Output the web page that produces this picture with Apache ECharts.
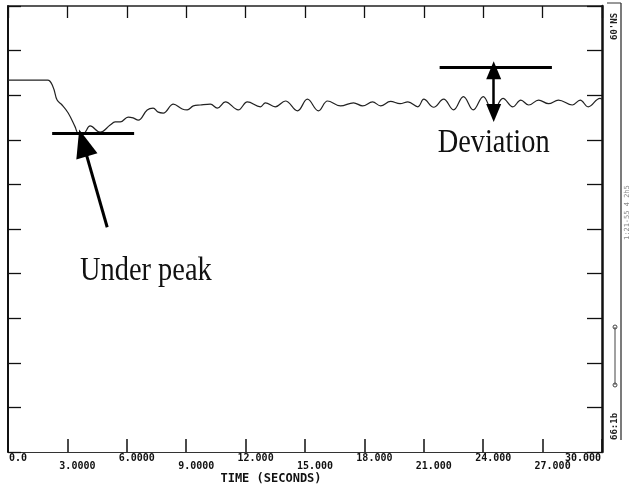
<!DOCTYPE html>
<html>
<head>
<meta charset="utf-8">
<script src="https://cdn.jsdelivr.net/npm/echarts@6/dist/echarts.min.js"></script>
<style>
  html, body { margin: 0; padding: 0; background: #fff; }
  #chart { width: 629px; height: 486px; }
</style>
</head>
<body>
<div id="chart"></div>
<script>
// Valores
const timeSec = [0, 2.0, 2.28, 2.48, 2.73, 3.04, 3.39, 3.54, 3.8, 4.15, 4.65, 5.16, 5.41, 5.67,
  6.07, 6.32, 6.58, 7.03, 7.33, 7.59, 7.84, 8.35, 8.8, 9.05, 9.36, 9.71, 10.22, 10.57, 10.98,
  11.63, 12.09, 12.75, 13.0, 13.5, 14.01, 14.62, 15.12, 15.68, 16.14, 16.79, 17.45, 17.91,
  18.41, 18.82, 19.32, 19.8, 20.2, 20.7, 21.0, 21.5, 22.0, 22.5, 23.0, 23.5, 24.0, 24.5, 25.0,
  25.5, 25.9, 26.3, 26.8, 27.3, 27.8, 28.5, 28.9, 29.3, 29.9, 30.0];
const response = [8.34, 8.34, 8.18, 7.89, 7.78, 7.60, 7.29, 7.15, 7.14, 7.31, 7.17, 7.33, 7.40, 7.40,
  7.51, 7.49, 7.44, 7.67, 7.71, 7.62, 7.60, 7.80, 7.69, 7.67, 7.76, 7.78, 7.80, 7.71, 7.85,
  7.67, 7.85, 7.74, 7.83, 7.74, 7.87, 7.65, 7.91, 7.65, 7.87, 7.76, 7.83, 7.76,
  7.85, 7.76, 7.86, 7.81, 7.85, 7.74, 7.91, 7.73, 7.91, 7.67, 7.97, 7.67, 7.97, 7.63, 7.93,
  7.74, 7.89, 7.78, 7.89, 7.81, 7.89, 7.78, 7.89, 7.74, 7.93, 7.91];
const xTickLabels = ['0.0', '3.0000', '6.0000', '9.0000', '12.000', '15.000', '18.000',
  '21.000', '24.000', '27.000', '30.000'];

// Anotaciones (coordenadas de datos)
const underPeakBar = [[2.23, 7.15], [6.37, 7.15]];
const underPeakArrow = [[5.01, 5.04], [3.79, 6.93]];
const deviationBar = [[21.8, 8.63], [27.47, 8.63]];
const deviationArrow = [[24.53, 8.56], [24.53, 7.60]];
const underPeakText = [3.64, 4.04];
const deviationText = [21.7, 6.93];

document.addEventListener('DOMContentLoaded', () => {
  var chart = echarts.init(document.getElementById('chart'));

  const points = timeSec.map((t, i) => [t, response[i]]);
  const monoFont = 'DejaVu Sans Mono';
  const lblStyle = { fontFamily: monoFont, fontWeight: 'bold', fontSize: 10, color: '#111' };

  function seg(a, b, width, s0, s1, size) {
    return [
      { coord: a, symbol: s0, symbolSize: size },
      { coord: b, symbol: s1, symbolSize: size, lineStyle: { width: width, color: '#000', type: 'solid' } }
    ];
  }

  // fila de etiquetas: par = arriba, impar = abajo
  function rowLabels(parity, margin) {
    return {
      show: true,
      margin: margin,
      verticalAlign: 'top',
      showMinLabel: true, showMaxLabel: true,
      formatter: function (v) {
        const i = Math.round(v / 3);
        if (i % 2 !== parity) return '';
        if (i === xTickLabels.length - 1) return '{z|' + xTickLabels[i] + '}';
        return '{a|' + xTickLabels[i] + '}';
      },
      rich: {
        a: Object.assign({ padding: [0, 0, 0, 20] }, lblStyle),
        z: Object.assign({ padding: [0, 38, 0, 0] }, lblStyle)
      }
    };
  }

  const option = {
    animation: false,
    grid: { left: 8, right: 27, top: 6, bottom: 34, outerBoundsMode: 'none', containLabel: false },
    xAxis: [{
      type: 'value',
      min: 0, max: 30, interval: 3,
      position: 'bottom',
      name: 'TIME (SECONDS)',
      nameLocation: 'middle',
      nameGap: 21,
      nameTextStyle: {
        fontFamily: monoFont, fontWeight: 'bold', fontSize: 12, color: '#111',
        padding: [0, 68, 0, 0], verticalAlign: 'top'
      },
      axisLine: { onZero: false, lineStyle: { color: '#333', width: 1.2 } },
      axisTick: { inside: true, length: 13, lineStyle: { color: '#111', width: 1.5 } },
      splitLine: { show: false },
      axisLabel: rowLabels(0, 1)
    }, {
      type: 'value',
      min: 0, max: 30, interval: 3,
      position: 'top',
      axisLine: { show: true, onZero: false, lineStyle: { color: '#222', width: 1.5 } },
      axisTick: { show: true, inside: true, length: 12, lineStyle: { color: '#111', width: 1.3 } },
      axisLabel: { show: false },
      splitLine: { show: false }
    }, {
      type: 'value',
      min: 0, max: 30, interval: 3,
      position: 'bottom',
      axisLine: { show: false, onZero: false },
      axisTick: { show: false },
      splitLine: { show: false },
      axisLabel: rowLabels(1, 9)
    }],
    yAxis: [{
      type: 'value',
      min: 0, max: 10, interval: 1,
      position: 'left',
      axisLine: { show: true, onZero: false, lineStyle: { color: '#111', width: 2 } },
      axisTick: { show: true, inside: true, length: 13, lineStyle: { color: '#111', width: 1.3 } },
      axisLabel: { show: false },
      splitLine: { show: false }
    }, {
      type: 'value',
      min: 0, max: 10, interval: 1,
      position: 'right',
      axisLine: { show: true, onZero: false, lineStyle: { color: '#111', width: 2.5 } },
      axisTick: { show: true, inside: true, length: 15, lineStyle: { color: '#111', width: 1.3 } },
      axisLabel: { show: false },
      splitLine: { show: false }
    }],
    series: [{
      name: 'Respuesta',
      type: 'line',
      xAxisIndex: 0,
      yAxisIndex: 0,
      data: points,
      smooth: 0.4,
      showSymbol: false,
      lineStyle: { color: '#222', width: 1.2 },
      markLine: {
        silent: true,
        animation: false,
        label: { show: false },
        emphasis: { disabled: true },
        lineStyle: { color: '#000', type: 'solid' },
        data: [
          seg(underPeakBar[0], underPeakBar[1], 3, 'none', 'none', 0),
          seg(underPeakArrow[0], underPeakArrow[1], 3, 'none', 'triangle', [22, 28]),
          seg(deviationBar[0], deviationBar[1], 3, 'none', 'none', 0),
          seg(deviationArrow[0], deviationArrow[1], 2.5, 'triangle', 'triangle', [15, 18])
        ]
      }
    }]
  };

  chart.setOption(option);

  // Textos de anotacion y marcas del borde derecho
  const pUnder = chart.convertToPixel({ gridIndex: 0 }, underPeakText);
  const pDev = chart.convertToPixel({ gridIndex: 0 }, deviationText);
  const serif = { fontFamily: 'Liberation Serif', fontSize: 33, fill: '#111', verticalAlign: 'middle', align: 'left' };

  chart.setOption({
    graphic: [
      { type: 'text', x: pUnder[0], y: pUnder[1], scaleX: 0.86, style: Object.assign({ text: 'Under peak' }, serif) },
      { type: 'text', x: pDev[0], y: pDev[1], scaleX: 0.86, style: Object.assign({ text: 'Deviation' }, serif) },
      { type: 'line', shape: { x1: 621, y1: 3, x2: 621, y2: 440 }, style: { stroke: '#333', lineWidth: 1.3 } },
      { type: 'line', shape: { x1: 607, y1: 3, x2: 621, y2: 3 }, style: { stroke: '#333', lineWidth: 1 } },
      { type: 'text', x: 610, y: 40, rotation: Math.PI / 2, style: { text: "60'NS", fontFamily: monoFont, fontWeight: 'bold', fontSize: 9, fill: '#222' } },
      { type: 'text', x: 624, y: 240, rotation: Math.PI / 2, style: { text: '1:21-55 4 2h5', fontFamily: monoFont, fontSize: 7, fill: '#888' } },
      { type: 'line', shape: { x1: 615, y1: 327, x2: 615, y2: 385 }, style: { stroke: '#444', lineWidth: 1 } },
      { type: 'circle', shape: { cx: 615, cy: 327, r: 2 }, style: { fill: 'none', stroke: '#444', lineWidth: 1 } },
      { type: 'circle', shape: { cx: 615, cy: 385, r: 2 }, style: { fill: 'none', stroke: '#444', lineWidth: 1 } },
      { type: 'text', x: 610, y: 440, rotation: Math.PI / 2, style: { text: '66:1b', fontFamily: monoFont, fontWeight: 'bold', fontSize: 9, fill: '#222' } }
    ]
  });

  window.addEventListener('resize', () => chart.resize());
});
</script>
</body>
</html>
